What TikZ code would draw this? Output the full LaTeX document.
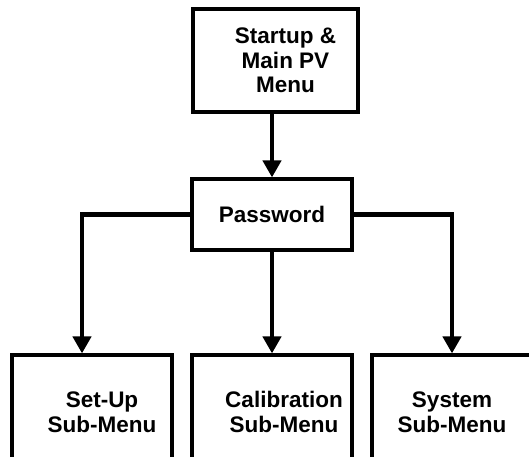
\documentclass[tikz,border=0pt]{standalone}
\usepackage{fontspec}
\setmainfont{Liberation Sans}
\usetikzlibrary{arrows.meta,positioning}

\begin{document}
\begin{tikzpicture}[x=1pt,y=-1pt,>={Triangle[length=17pt,width=18pt]},
  menubox/.style={draw,line width=3.2pt,minimum width=160pt,inner sep=0pt},
  menutext/.style={font=\bfseries\fontsize{22.5}{24.5}\selectfont,align=center},
  link/.style={->,line width=4.6pt}]
\clip (0,0) rectangle (529,456);
% boxes
\node[menubox,minimum width=165pt,minimum height=103pt,label={[menutext,xshift=10pt]center:Startup \&\\Main PV\\Menu}] (start) at (275.5,60.5) {};
\node[menubox,menutext,minimum height=71pt] (pass) at (272,214.5) {Password};
\node[menubox,minimum height=120pt,label={[menutext,xshift=10pt,yshift=3pt]center:Set-Up\\Sub-Menu}] (setup) at (92,415) {};
\node[menubox,minimum height=120pt,label={[menutext,xshift=12pt,yshift=3pt]center:Calibration\\Sub-Menu}] (calib) at (272,415) {};
\node[menubox,minimum height=120pt,label={[menutext,yshift=3pt]center:System\\Sub-Menu}] (system) at (452,415) {};
% connectors
\draw[link] (start.south -| pass.north) -- (pass.north);
\draw[link] (pass.west) -| ([xshift=-10pt]setup.north);
\draw[link] (pass.south) -- (calib.north);
\draw[link] (pass.east) -| (system.north);
\end{tikzpicture}
\end{document}
